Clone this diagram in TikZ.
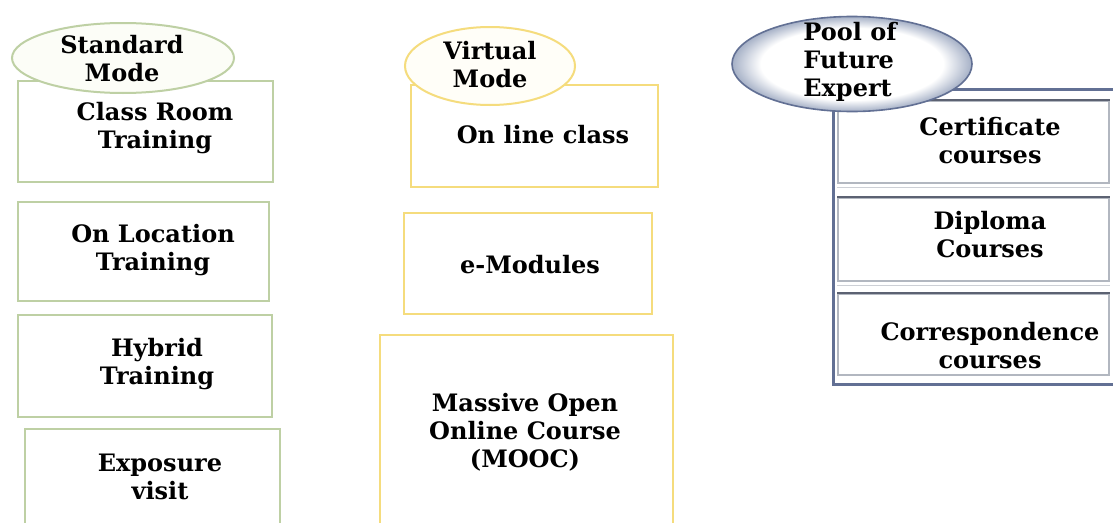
\documentclass[tikz,border=0pt]{standalone}
\usepackage{fontspec}
\setmainfont{DejaVu Serif}
\usetikzlibrary{shapes.geometric}
\definecolor{gline}{RGB}{190,208,164}
\definecolor{yline}{RGB}{245,220,125}
\definecolor{bframe}{RGB}{98,112,148}
\definecolor{ilight}{RGB}{178,183,192}
\definecolor{ishadow}{RGB}{205,208,214}
\definecolor{idark}{RGB}{92,98,114}
\definecolor{poolrim}{RGB}{165,176,198}
\pgfdeclareradialshading{poolshade}{\pgfpoint{0bp}{0bp}}{color(0bp)=(white); color(19bp)=(white); color(25bp)=(poolrim); color(50bp)=(poolrim)}
\tikzset{
  lbl/.style={font=\fontsize{24}{28}\selectfont\bfseries, align=center, inner sep=0pt, text=black},
  gbox/.style={draw=gline, line width=2.2pt, fill=white, anchor=north west, inner sep=0pt},
  ybox/.style={draw=yline, line width=2pt, fill=white, anchor=north west, inner sep=0pt},
  ibox/.style={draw=ilight, line width=1.5pt, fill=white, anchor=north west, inner sep=0pt},
  oval/.style={ellipse, inner sep=0pt},
}
\begin{document}
\begin{tikzpicture}[x=1pt,y=-1pt]
\useasboundingbox (0,0) rectangle (1113,522);
\clip (0,0) rectangle (1113,522);
\fill[white] (0,0) rectangle (1113,522);
% ---------- left column ----------
\node[gbox, minimum width=255pt, minimum height=101pt] (crt) at (17,80) {};
\node[gbox, minimum width=251pt, minimum height=99pt] (olt) at (17,201) {};
\node[gbox, minimum width=254pt, minimum height=102pt] (hyb) at (17,314) {};
\node[gbox, minimum width=255pt, minimum height=110pt] (exp) at (24,428) {};
\node[oval, draw=gline, line width=2pt, fill={rgb,255:red,252;green,253;blue,247}, minimum width=222pt, minimum height=70pt] (std) at (123,58) {};
\node[lbl] (stdt) at (122,59) {Standard\\Mode};
\node[lbl] (crtt) at (155,128) {Class Room\\Training};
\node[lbl] (oltt) at (153,250) {On Location\\Training};
\node[lbl] (hybt) at (157,364) {Hybrid\\Training};
\node[lbl] (expt) at (160,477) {Exposure\\visit};
% ---------- middle column ----------
\node[ybox, minimum width=247pt, minimum height=102pt] (olc) at (410,84) {};
\node[ybox, minimum width=248pt, minimum height=101pt] (emo) at (403,212) {};
\node[ybox, minimum width=293pt, minimum height=200pt] (moc) at (379,334) {};
\node[oval, draw=yline, line width=2pt, fill={rgb,255:red,255;green,254;blue,248}, minimum width=170pt, minimum height=78pt] (vir) at (490,66) {};
\node[lbl] (virt) at (490,65) {Virtual\\Mode};
\node[lbl] (olct) at (543,135) {On line class};
\node[lbl] (emot) at (530,265) {e-Modules};
\node[lbl] (moct) at (525,432) {Massive Open\\Online Course\\(MOOC)};
% ---------- right column ----------
\node[draw=bframe, line width=2.6pt, anchor=north west, inner sep=0pt, minimum width=300pt, minimum height=295pt] (frm) at (832,88) {};
\node[ibox, minimum width=271pt, minimum height=82pt] (cer) at (837,100) {};
\node[ibox, minimum width=271pt, minimum height=83pt] (dip) at (837,197) {};
\node[ibox, minimum width=271pt, minimum height=81pt] (cor) at (837,293) {};
\draw[idark, line width=2.6pt] (cer.north west) -- (cer.north east);
\draw[idark, line width=2.6pt] (dip.north west) -- (dip.north east);
\draw[idark, line width=2.6pt] (cor.north west) -- (cor.north east);
\draw[ishadow, line width=1.5pt] ([yshift=-4pt]cer.south west) -- ([yshift=-4pt]cer.south east);
\draw[ishadow, line width=1.5pt] ([yshift=-4pt]dip.south west) -- ([yshift=-4pt]dip.south east);
\node[oval, draw=bframe, line width=1.6pt, shade, shading=poolshade, minimum width=240pt, minimum height=95pt] (pool) at (852,64) {};
\node[lbl, align=left] (poolt) at (850,62) {Pool of\\Future\\Expert};
\node[lbl] (cert) at (990,141) {Certificate\\courses};
\node[lbl] (dipt) at (990,235) {Diploma\\Courses};
\node[lbl] (cort) at (990,346) {Correspondence\\courses};
\end{tikzpicture}
\end{document}
